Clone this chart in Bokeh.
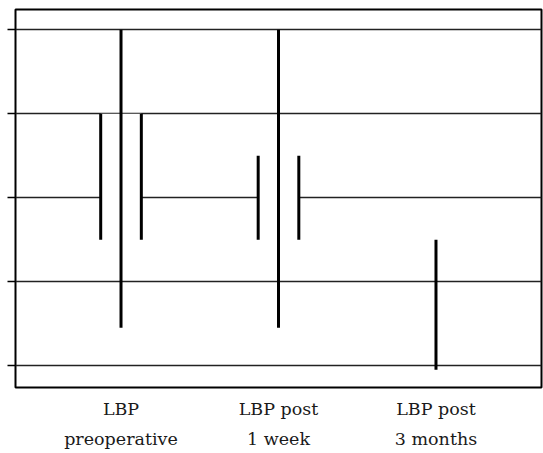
from bokeh.plotting import figure
from bokeh.models import Range1d, FixedTicker, CustomJSTickFormatter, LinearAxis
from bokeh.embed import file_html
from bokeh.resources import INLINE

# ---- data ----
categories = ["LBP\npreoperative", "LBP post\n1 week", "LBP post\n3 months"]
positions = [1, 2, 3]
high = [8.0, 8.0, 3.0]
low = [0.9, 0.9, -0.1]
box_top = [6.0, 5.0, float("nan")]
box_bottom = [3.0, 3.0, float("nan")]
y_ticks = [0, 2, 4, 6, 8]

half = 0.129  # half width of the box (style)
FONT = "DejaVu Serif"

p = figure(width=543, height=453, output_backend="svg", toolbar_location=None,
           x_range=Range1d(0.33, 3.67), y_range=Range1d(-0.52, 8.48),
           x_axis_location=None,
           min_border_top=9, min_border_right=2, min_border_left=15, min_border_bottom=66)

p.outline_line_color = "black"
p.outline_line_width = 2
p.outline_line_alpha = 1.0
p.background_fill_color = "white"
p.border_fill_color = "white"

# y axis: ticks only, no labels
p.yaxis.ticker = FixedTicker(ticks=y_ticks)
p.yaxis.formatter = CustomJSTickFormatter(code="return ''")
p.yaxis.major_label_standoff = 0
p.yaxis.major_tick_out = 8
p.yaxis.major_tick_in = 0
p.yaxis.minor_tick_line_color = None
p.yaxis.major_tick_line_color = "black"
p.yaxis.major_tick_line_width = 1.5
p.yaxis.axis_line_color = None

# x axis: two stacked label rows (first line / second line of each category)
lines = [c.split("\n") for c in categories]
for row, standoff in ((0, 11), (1, 7)):
    ax = LinearAxis(ticker=FixedTicker(ticks=positions),
                    major_label_overrides={pos: ln[row] for pos, ln in zip(positions, lines)},
                    major_tick_out=0, major_tick_in=0,
                    major_tick_line_color=None, minor_tick_line_color=None,
                    axis_line_color=None, major_label_standoff=standoff,
                    major_label_text_font=FONT, major_label_text_font_size="17.5px",
                    major_label_text_color="#1a1a1a")
    p.add_layout(ax, "below")

# grid
p.xgrid.visible = False
p.ygrid.ticker = FixedTicker(ticks=y_ticks)
p.ygrid.grid_line_color = "#222222"
p.ygrid.grid_line_width = 1.3

# boxes (white fill hides grid inside)
p.vbar(x=positions, top=box_top, bottom=box_bottom, width=2 * half,
       fill_color="white", line_color=None)

left_x = [x - half for x in positions]
right_x = [x + half for x in positions]
p.segment(x0=left_x, y0=box_bottom, x1=left_x, y1=box_top,
          line_color="black", line_width=3, line_cap="butt")
p.segment(x0=right_x, y0=box_bottom, x1=right_x, y1=box_top,
          line_color="black", line_width=3, line_cap="butt")

# high-low lines
p.segment(x0=positions, y0=low, x1=positions, y1=high,
          line_color="black", line_width=3, line_cap="butt")

open("out.html", "w").write(file_html(p, INLINE))
